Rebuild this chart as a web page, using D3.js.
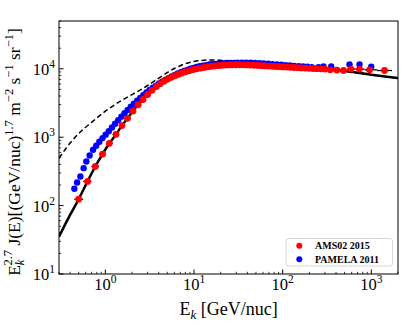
<!DOCTYPE html>
<html><head><meta charset="utf-8">
<script src="https://cdn.jsdelivr.net/npm/d3@7"></script>
<style>html,body{margin:0;padding:0;background:#fff;} svg{display:block;}</style>
</head><body>
<svg id="c" width="408" height="325"></svg>
<script>
// ---- data ----
const amsE = [0.50,0.63,0.77,0.93,1.11,1.32,1.54,1.78,2.05,2.34,2.66,3.00,3.36,3.76,4.15,4.58,5.05,5.55,6.1,6.7,7.35,8.05,8.85,9.7,10.65,11.7,12.85,14.1,15.5,17.0,18.7,20.5,22.5,24.7,27.1,29.8,32.7,35.9,39.4,43.3,47.5,52.2,57.3,63,69,76,83.5,92,101,111,122,134,148,163,180,199,220,244,270,300,344,409,486,589,736,955,1409];
const amsF = [124,226,373,566,815,1100,1480,1890,2410,2980,3560,4210,4850,5510,6050,6600,7080,7500,7920,8320,8700,9060,9400,9700,9980,10230,10450,10650,10830,10990,11120,11230,11320,11390,11440,11460,11460,11440,11400,11340,11270,11190,11110,11030,10950,10870,10800,10730,10660,10590,10520,10450,10380,10310,10240,10170,10100,10040,9980,9900,9670,9570,9440,9900,9900,9670,9440];

const pamE = [0.447,0.48,0.523,0.569,0.61,0.665,0.727,0.789,0.856,0.929,1.008,1.094,1.187,1.288,1.397,1.516,1.645,1.785,1.937,2.10,2.28,2.47,2.68,2.91,3.16,3.43,3.72,4.03,4.37,4.74,5.15,5.58,6.06,6.57,7.13,7.74,8.40,9.11,9.88,10.7,11.6,12.6,13.7,14.9,16.1,17.5,19.0,20.6,22.4,24.3,26.3,28.6,31,34.7,38.9,43.6,48.8,54.7,61.2,68.6,76.8,86,96.3,108,121,135,152,170,190,213,254,289,353,568,736,998];
const pamF = [176,218,267,353,441,540,654,750,859,971,1089,1222,1384,1571,1776,1996,2244,2503,2782,3086,3410,3758,4129,4499,4901,5285,5675,6084,6462,6864,7289,7708,8166,8535,8918,9310,9654,10009,10332,10605,10889,11110,11316,11535,11641,11749,11858,11965,12063,12116,12166,12218,12250,12250,12250,12240,12150,12070,11975,11830,11687,11550,11435,11316,11181,11035,10889,10789,10692,10593,10600,10810,10810,11560,11560,10700];

const modelE = [0.3,0.4,0.5,0.63,0.77,0.93,1.11,1.32,1.54,1.78,2.05,2.34,2.66,3,3.5,4,5,6,7,8,10,12,15,20,25,30,40,50,70,100,150,200,300,500,700,1000,1500,2000];
const modelF = [35,73,124,226,373,566,815,1100,1480,1890,2410,2980,3560,4210,5070,5850,7030,7850,8500,9040,9900,10300,10800,11200,11400,11460,11400,11230,10950,10660,10370,10150,9850,9250,8750,8200,7650,7300];

const lisE = [0.3,0.4,0.5,0.7,1.0,1.5,2,3,4,5,6,7,8,10,12,15,20,30,50,70,100,200,300,500,1000,2000];
const lisF = [494,820,1130,1650,2400,3400,4200,5700,7300,8800,10100,11100,11900,12800,13200,13450,13300,12900,12000,11400,10900,10250,9900,9280,8210,7300];

const xMajor = [1,10,100,1000];
const xMajorLabels = ["0","1","2","3"];
const yMajor = [10,100,1000,10000];
const yMajorLabels = ["1","2","3","4"];
const legendLabels = ["AMS02 2015","PAMELA 2011"];
const legendColors = ["#ff0000","#0000ff"];

// ---- layout ----
const L=59,R=398,T=21,B=274;
const svg = d3.select("#c");
const x = d3.scaleLog().domain([0.3,2000]).range([L,R]);
const y = d3.scaleLog().domain([10,50000]).range([B,T]);
const serif = "'Liberation Serif','Times New Roman',serif";

svg.append("clipPath").attr("id","clp").append("rect")
  .attr("x",L).attr("y",T).attr("width",R-L).attr("height",B-T);
const g = svg.append("g").attr("clip-path","url(#clp)");

const line = d3.line().x(d=>x(d[0])).y(d=>y(d[1])).curve(d3.curveMonotoneX);

g.append("path").datum(lisE.map((e,i)=>[e,lisF[i]]))
  .attr("d",line).attr("fill","none").attr("stroke","#000")
  .attr("stroke-width",1.5).attr("stroke-dasharray","5,3");
g.append("path").datum(modelE.map((e,i)=>[e,modelF[i]]))
  .attr("d",line).attr("fill","none").attr("stroke","#000")
  .attr("stroke-width",2.5);

// PAMELA points
g.selectAll("circle.p").data(pamE.map((e,i)=>[e,pamF[i]])).enter()
  .append("circle").attr("cx",d=>x(d[0])).attr("cy",d=>y(d[1]))
  .attr("r",3.2).attr("fill","#0000ff");

// AMS error bars (bin edges from neighbouring energies)
const edges = amsE.map((e,i)=>{
  const lo = i>0 ? Math.sqrt(amsE[i-1]*e) : e*e/Math.sqrt(e*amsE[1]);
  const hi = i<amsE.length-1 ? Math.sqrt(amsE[i+1]*e) : e*e/Math.sqrt(e*amsE[i-1]);
  return [lo,hi];
});
g.selectAll("line.e").data(amsE.map((e,i)=>[edges[i][0],edges[i][1],amsF[i]])).enter()
  .append("line").attr("x1",d=>x(d[0])).attr("x2",d=>x(d[1]))
  .attr("y1",d=>y(d[2])).attr("y2",d=>y(d[2]))
  .attr("stroke","#000").attr("stroke-width",1.3);
g.selectAll("circle.a").data(amsE.map((e,i)=>[e,amsF[i]])).enter()
  .append("circle").attr("cx",d=>x(d[0])).attr("cy",d=>y(d[1]))
  .attr("r",3.4).attr("fill","#ff0000");

// ---- axes ----
const axG = svg.append("g");
axG.append("rect").attr("x",L).attr("y",T).attr("width",R-L).attr("height",B-T)
  .attr("fill","none").attr("stroke","#000").attr("stroke-width",1);

x.ticks().filter(v=>v>=0.3&&v<=2000).forEach(v=>{
  const maj = xMajor.includes(v);
  axG.append("line").attr("x1",x(v)).attr("x2",x(v)).attr("y1",B).attr("y2",B-(maj?4.5:2.2))
    .attr("stroke","#000").attr("stroke-width",maj?1:0.8);
});
y.ticks().filter(v=>v>=10&&v<=50000).forEach(v=>{
  const maj = yMajor.includes(v);
  axG.append("line").attr("x1",L).attr("x2",L+(maj?4.5:2.2)).attr("y1",y(v)).attr("y2",y(v))
    .attr("stroke","#000").attr("stroke-width",maj?1:0.8);
});

xMajor.forEach((v,i)=>{
  const t = axG.append("text").attr("x",x(v)).attr("y",290).attr("text-anchor","middle")
    .attr("font-family",serif).attr("font-size",16.5);
  t.append("tspan").text("10");
  t.append("tspan").attr("dy",-7).attr("font-size",11.5).text(xMajorLabels[i]);
});
yMajor.forEach((v,i)=>{
  const t = axG.append("text").attr("x",55).attr("y",y(v)+6).attr("text-anchor","end")
    .attr("font-family",serif).attr("font-size",16.5);
  t.append("tspan").text("10");
  t.append("tspan").attr("dy",-7).attr("font-size",11.5).text(yMajorLabels[i]);
});

// x title
const xt = svg.append("text").attr("x",(L+R)/2).attr("y",315).attr("text-anchor","middle")
  .attr("font-family",serif).attr("font-size",18);
xt.append("tspan").text("E");
xt.append("tspan").attr("dy",4).attr("font-size",13).attr("font-style","italic").text("k");
xt.append("tspan").attr("dy",-4).text(" [GeV/nuc]");

// y title
const yt = svg.append("text").attr("transform","translate(20,152) rotate(-90)")
  .attr("text-anchor","middle").attr("font-family",serif).attr("font-size",17.5);
yt.append("tspan").text("E");
yt.append("tspan").attr("dy",4).attr("font-size",12.5).attr("font-style","italic").text("k");
yt.append("tspan").attr("dx",-6).attr("dy",-12).attr("font-size",12.5).text("2.7");
yt.append("tspan").attr("dy",8).text(" J(E)[(GeV/nuc)");
yt.append("tspan").attr("dy",-7).attr("font-size",12.5).text("1.7");
yt.append("tspan").attr("dy",7).text(" m");
yt.append("tspan").attr("dy",-7).attr("font-size",12.5).text("−2");
yt.append("tspan").attr("dy",7).text(" s");
yt.append("tspan").attr("dy",-7).attr("font-size",12.5).text("−1");
yt.append("tspan").attr("dy",7).text(" sr");
yt.append("tspan").attr("dy",-7).attr("font-size",12.5).text("−1");
yt.append("tspan").attr("dy",7).text("]");

// legend
const lg = svg.append("g");
lg.append("rect").attr("x",286).attr("y",238.5).attr("width",106.5).attr("height",27.5)
  .attr("rx",2.5).attr("fill","#fff").attr("fill-opacity",0.8).attr("stroke","#ccc").attr("stroke-width",0.8);
legendLabels.forEach((lab,i)=>{
  const yy = 245.7 + i*13.6;
  lg.append("circle").attr("cx",299.3).attr("cy",yy).attr("r",3).attr("fill",legendColors[i]);
  lg.append("text").attr("x",315).attr("y",yy+3.3).attr("font-family",serif)
    .attr("font-size",10).attr("font-weight","bold").text(lab);
});
</script>
</body></html>
